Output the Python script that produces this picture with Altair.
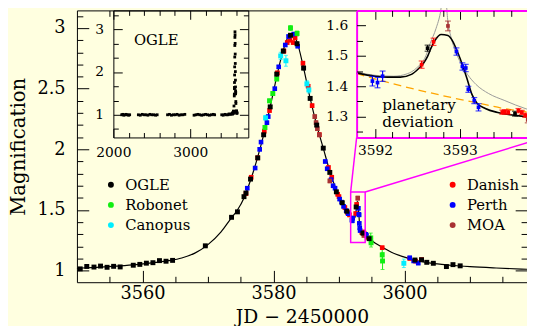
import altair as alt
import pandas as pd

FONT = "DejaVu Serif"
BG = "#ffffe0"
MAG = "#ff00ff"

COLORS = {"OGLE": "#000000", "Robonet": "#11ee11", "Canopus": "#00eeff",
          "Danish": "#ff0000", "Perth": "#0000ff", "MOA": "#a83232"}
GROUP_A = ["OGLE", "Robonet", "Canopus"]
GROUP_B = ["Danish", "Perth", "MOA"]

# ---------------- layout ----------------
W, H = 457, 276
MAIN_XD = [3550.0, 3618.7]; MAIN_YD = [0.905, 3.145]
MAIN_XR = [0, W]; MAIN_YR = [H, 0]
IN1_XD = [2000.0, 3756.0]; IN1_YD = [0.47, 3.44]; IN1_XR = [37, 174]; IN1_YR = [129, 0]
IN2_XD = [3591.784, 3594.0]; IN2_YD = [1.232, 1.649]; IN2_XR = [284, 475]; IN2_YR = [129, 0]

# ---------------- ticks ----------------
MAIN_X_MAJOR = [3560, 3580, 3600]
MAIN_X_MINOR = [3555, 3565, 3570, 3575, 3585, 3590, 3595, 3605, 3610, 3615]
MAIN_Y_MAJOR = [1, 1.5, 2, 2.5, 3]
MAIN_Y_MINOR = [1.1, 1.2, 1.3, 1.4, 1.6, 1.7, 1.8, 1.9, 2.1, 2.2, 2.3, 2.4, 2.6, 2.7, 2.8, 2.9, 3.1]
MAIN_TOP_MINOR = [3555]
MAIN_RIGHT_MAJOR = [1, 1.5, 2]
MAIN_RIGHT_MINOR = [1.1, 1.2, 1.3, 1.4, 1.6, 1.7, 1.8, 1.9]
IN1_X_MAJOR = [2000, 3000]; IN1_X_MINOR = [2200, 2400, 2600, 2800, 3200, 3400, 3600]
IN1_Y_MAJOR = [1, 2, 3]; IN1_Y_MINOR = [2 / 3, 4 / 3, 5 / 3, 7 / 3, 8 / 3, 10 / 3]
IN2_X_MAJOR = [3592, 3593]; IN2_X_MINOR = [3592.2, 3592.4, 3592.6, 3592.8, 3593.2, 3593.4, 3593.6, 3593.8]
IN2_Y_MAJOR = [1.3, 1.4, 1.5, 1.6]; IN2_Y_MINOR = [1.25, 1.35, 1.45, 1.55]

# ---------------- model curves ----------------
MODEL_T = [3550, 3553, 3556, 3559, 3562, 3564, 3566, 3568, 3570, 3572, 3573.5, 3574.5, 3575.5,
           3576.5, 3577.5, 3578.5, 3579.5, 3580.5, 3581.3, 3582.0, 3582.8, 3583.5, 3584.6,
           3585.6, 3586.6, 3587.6, 3588.6, 3589.6, 3590.6, 3591.3,
           3594.5, 3595.5, 3596.7, 3598, 3600, 3602, 3604, 3607, 3610, 3614, 3618.7]
MODEL_A = [1.020, 1.028, 1.038, 1.050, 1.068, 1.083, 1.105, 1.145, 1.215, 1.32, 1.43, 1.50, 1.60,
           1.745, 1.92, 2.12, 2.35, 2.60, 2.78, 2.90, 2.955, 2.90, 2.67,
           2.42, 2.20, 2.01, 1.82, 1.665, 1.555, 1.49,
           1.27, 1.228, 1.192, 1.152, 1.112, 1.082, 1.062, 1.045, 1.033, 1.022, 1.012]
BUMP_T = [3591.784, 3592.0, 3592.15, 3592.3, 3592.43, 3592.51, 3592.57, 3592.62, 3592.66, 3592.71,
          3592.78, 3592.86, 3592.92, 3592.97, 3593.03, 3593.09, 3593.14, 3593.20, 3593.30,
          3593.46, 3593.76, 3594.0]
BUMP_A = [1.444, 1.433, 1.430, 1.430, 1.439, 1.457, 1.475, 1.498, 1.525, 1.552,
          1.570, 1.567, 1.546, 1.514, 1.471, 1.420, 1.375, 1.345, 1.327,
          1.313, 1.301, 1.293]
GRAY_T = [3591.784, 3592.0, 3592.22, 3592.38, 3592.49, 3592.6, 3592.65, 3592.72, 3592.77, 3592.80,
          3592.83, 3592.86, 3592.90, 3592.95, 3593.01, 3593.09, 3593.19, 3593.34, 3593.53,
          3593.78, 3594.0]
GRAY_A = [1.447, 1.436, 1.433, 1.441, 1.460, 1.500, 1.540, 1.590, 1.640, 1.690,
          1.690, 1.611, 1.557, 1.514, 1.476, 1.439, 1.406, 1.376, 1.353,
          1.326, 1.310]
PSPL_T = [3591.784, 3592.0, 3592.3, 3592.6, 3592.9, 3593.2, 3593.5, 3593.78, 3594.0]
PSPL_A = [1.442, 1.424, 1.402, 1.382, 1.363, 1.346, 1.328, 1.316, 1.307]

# ---------------- observations ----------------
OGLE_T = [3550.5, 3551.5, 3552.6, 3553.6, 3554.6, 3555.6, 3556.6, 3558.6, 3559.6, 3560.6, 3561.6,
          3562.6, 3563.6, 3564.6, 3569.6, 3573.6, 3574.5, 3575.5, 3575.8, 3576.5, 3577.6, 3578.5,
          3579.5, 3580.5, 3581.5, 3582.6, 3583.6, 3584.6, 3585.6, 3586.6, 3587.6, 3588.6, 3589.6,
          3590.5, 3591.2, 3592.62, 3593.65, 3594.6, 3601.6, 3602.6, 3603.4, 3604.4, 3606.4,
          3607.4, 3608.5]
OGLE_A = [1.015, 1.035, 1.030, 1.038, 1.028, 1.036, 1.031, 1.045, 1.052, 1.062, 1.066,
          1.083, 1.078, 1.085, 1.205, 1.44, 1.485, 1.61, 1.64, 1.755, 1.93, 2.12,
          2.35, 2.62, 2.81, 2.94, 2.87, 2.67, 2.42, 2.20, 2.01, 1.81, 1.65,
          1.56, 1.49, 1.525, 1.31, 1.264, 1.088, 1.090, 1.069, 1.061, 1.034,
          1.050, 1.040]
OGLE_E = [0.005] * 15 + [0.008, 0.008, 0.01, 0.01, 0.01, 0.01, 0.012, 0.012, 0.015, 0.015,
                         0.015, 0.015, 0.015, 0.012, 0.012, 0.01, 0.01, 0.01, 0.01, 0.008,
                         0.01, 0.008, 0.008] + [0.006] * 7
DAN_T = [3575.8, 3576.6, 3577.6, 3578.6, 3579.4, 3580.6, 3581.6, 3582.1, 3582.5, 3583.0, 3583.3,
         3584.5, 3585.3, 3585.9, 3587.0, 3588.4, 3588.9, 3589.8, 3590.0, 3590.9, 3591.3, 3591.6,
         3592.55, 3592.69,
         3593.50, 3593.53, 3593.57, 3593.69, 3593.73, 3593.77, 3593.85, 3593.9, 3594.3,
         3596.6, 3600.8, 3601.7, 3602.6]
DAN_A = [1.635, 1.77, 1.93, 2.15, 2.32, 2.63, 2.81, 2.88, 2.90, 2.88, 2.92,
         2.71, 2.52, 2.36, 2.12, 1.85, 1.77, 1.63, 1.61, 1.52, 1.48, 1.46,
         1.471, 1.546,
         1.315, 1.316, 1.315, 1.320, 1.314, 1.305, 1.31, 1.30, 1.275,
         1.19, 1.10, 1.078, 1.092]
DAN_E = [0.015] * 22 + [0.012, 0.012] + [0.007] * 9 + [0.012, 0.008, 0.008, 0.008]
PER_T = [3576.0, 3577.2, 3577.9, 3578.1, 3579.0, 3579.2, 3580.2, 3580.8, 3581.8, 3582.3, 3583.1,
         3583.7, 3587.9, 3588.2, 3588.8, 3589.1, 3589.4, 3590.1, 3590.4, 3590.7, 3591.1, 3591.4,
         3591.97, 3592.03, 3592.09, 3592.96, 3593.03, 3593.07,
         3593.10, 3593.17, 3593.22, 3594.1, 3594.2, 3600.8, 3601.4, 3602.1]
PER_A = [1.68, 1.846, 2.00, 2.06, 2.22, 2.27, 2.50, 2.68, 2.86, 2.93, 2.95,
         2.85, 1.90, 1.84, 1.75, 1.70, 1.68, 1.59, 1.565, 1.53, 1.495, 1.47,
         1.417, 1.412, 1.433, 1.514, 1.465, 1.460,
         1.390, 1.353, 1.331, 1.30, 1.29, 1.107, 1.08, 1.062]
PER_E = [0.012] * 22 + [0.016, 0.017, 0.017, 0.012, 0.012, 0.012, 0.010, 0.010, 0.012,
                        0.012, 0.012, 0.008, 0.008, 0.008]
ROB_T = [3578.7, 3579.4, 3579.9, 3580.5, 3582.6, 3583.6, 3594.85, 3594.9, 3596.6, 3596.65]
ROB_A = [2.18, 2.40, 2.46, 2.58, 3.00, 2.955, 1.27, 1.23, 1.13, 1.08]
ROB_E = [0.015, 0.015, 0.015, 0.015, 0.02, 0.02, 0.04, 0.035, 0.045, 0.07]
CAN_T = [3578.8, 3581.1, 3581.9, 3585.1, 3585.4, 3599.9]
CAN_A = [2.26, 2.77, 2.73, 2.54, 2.49, 1.061]
CAN_E = [0.02, 0.03, 0.045, 0.025, 0.025, 0.035]
MOA_T = [3586.3, 3586.5, 3586.7, 3587.0, 3588.6, 3592.86, 3593.8]
MOA_A = [2.27, 2.22, 2.17, 2.12, 1.74, 1.598, 1.29]
MOA_E = [0.015, 0.015, 0.015, 0.015, 0.015, 0.016, 0.01]

# OGLE archival baseline (inset)
HIST_T = [2108, 2122, 2136, 2150, 2166, 2180, 2198, 2212,
          2325, 2350, 2375, 2400, 2425, 2450, 2475, 2500, 2525, 2550, 2570,
          2705, 2730, 2755, 2780, 2805, 2830, 2855, 2880, 2905, 2930,
          3050, 3075, 3100, 3125, 3150, 3175, 3200, 3225, 3250, 3275, 3300, 3318,
          3410, 3430, 3450, 3470, 3490, 3505, 3520, 3535]
HIST_A = [1.00, 1.01, 0.99, 1.00, 1.01, 1.00, 0.99, 1.00,
          1.00, 0.99, 1.01, 1.00, 1.00, 0.99, 1.01, 1.00, 1.00, 0.99, 1.00,
          1.00, 1.01, 0.99, 1.00, 1.00, 1.01, 0.99, 1.00, 1.00, 1.01,
          0.99, 1.00, 1.01, 1.00, 0.99, 1.00, 1.01, 1.00, 0.99, 1.00, 1.01, 1.00,
          1.00, 0.99, 1.01, 1.00, 1.00, 1.02, 1.01, 1.02]

TELE = {"OGLE": (OGLE_T, OGLE_A, OGLE_E), "Robonet": (ROB_T, ROB_A, ROB_E),
        "Canopus": (CAN_T, CAN_A, CAN_E), "Danish": (DAN_T, DAN_A, DAN_E),
        "Perth": (PER_T, PER_A, PER_E), "MOA": (MOA_T, MOA_A, MOA_E)}

rows = []
for name, (ts, As, es) in TELE.items():
    for t, a, e in zip(ts, As, es):
        rows.append(dict(tel=name, t=t, A=a, lo=a - e, hi=a + e, col=COLORS[name]))
obs = pd.DataFrame(rows)
order_a = {"Robonet": 0, "Canopus": 1, "OGLE": 2}
obs_a = obs[obs.tel.isin(GROUP_A)].copy()
obs_a["o"] = obs_a.tel.map(order_a)
obs_a = obs_a.sort_values(["o", "t"]).drop(columns="o")
obs_b = obs[obs.tel.isin(GROUP_B)]
caps = pd.concat([obs.assign(yc=obs.lo), obs.assign(yc=obs.hi)])

in2 = obs[(obs.t >= IN2_XD[0]) & (obs.t <= IN2_XD[1])]
in2_caps = caps[(caps.t >= IN2_XD[0]) & (caps.t <= IN2_XD[1])]

main_curve = pd.DataFrame({"t": MODEL_T + BUMP_T, "A": MODEL_A + BUMP_A}).sort_values("t")
ogle_all = pd.DataFrame({"t": HIST_T + OGLE_T, "A": HIST_A + OGLE_A})


def sc(dom, rng):
    return alt.Scale(domain=dom, range=rng, nice=False, zero=False)


def ax(orient, offset, values, size=0, labels=False, domain=False, dcolor="black",
       dwidth=1, fs=14, pad=0, z=0, **kw):
    opts = dict(orient=orient, offset=offset, values=values, ticks=size > 0, tickSize=size,
                tickColor="black", tickWidth=1, labels=labels, domain=domain,
                domainColor=dcolor, domainWidth=dwidth, grid=False, zindex=z, format="~f",
                labelFont=FONT, labelFontSize=fs, labelPadding=pad, labelColor="black",
                labelFlush=False, labelOverlap=False)
    opts.update(kw)
    if "title" not in opts:
        opts["title"] = None
    return alt.Axis(**opts)


def axis_layer(xd, xr, yd, yr, xaxis=None, yaxis=None):
    df = pd.DataFrame({"x": [xd[0]], "y": [yd[0]]})
    return alt.Chart(df).mark_point(opacity=0).encode(
        x=alt.X("x:Q", scale=sc(xd, xr), axis=xaxis),
        y=alt.Y("y:Q", scale=sc(yd, yr), axis=yaxis))


def enc(xd, xr, yd, yr, xf="t", yf="A", **kw):
    return dict(x=alt.X(f"{xf}:Q", scale=sc(xd, xr), axis=None),
                y=alt.Y(f"{yf}:Q", scale=sc(yd, yr), axis=None), **kw)


M = (MAIN_XD, MAIN_XR, MAIN_YD, MAIN_YR)
I1 = (IN1_XD, IN1_XR, IN1_YD, IN1_YR)
I2 = (IN2_XD, IN2_XR, IN2_YD, IN2_YR)
layers = []

# ---- main axes ----
layers.append(axis_layer(*M,
    xaxis=ax("bottom", 0, MAIN_X_MAJOR, labels=True, domain=True, fs=18, pad=3,
             title="JD − 2450000", titleFont=FONT, titleFontSize=19, titleFontWeight="normal",
             titleColor="black", titleY=41, titleBaseline="alphabetic"),
    yaxis=ax("left", 0, MAIN_Y_MAJOR, labels=True, domain=True, fs=18, pad=12,
             title="Magnification", titleFont=FONT, titleFontSize=20, titleFontWeight="normal",
             titleColor="black", titleX=-53, titleY=H / 2, titleBaseline="alphabetic",
             titleAngle=270)))
layers.append(axis_layer(*M, xaxis=ax("top", -H, MAIN_X_MAJOR, size=12),
                         yaxis=ax("right", -W, MAIN_Y_MAJOR, size=12)))
layers.append(axis_layer(*M, xaxis=ax("top", -H, MAIN_X_MINOR, size=6),
                         yaxis=ax("right", -W, MAIN_Y_MINOR, size=6)))
layers.append(axis_layer(*M, xaxis=ax("bottom", -H, MAIN_TOP_MINOR, size=6, domain=True),
                         yaxis=ax("left", -W, MAIN_RIGHT_MAJOR, size=12)))
layers.append(axis_layer(*M, yaxis=ax("left", -W, MAIN_RIGHT_MINOR, size=6)))

# ---- main data ----
layers.append(alt.Chart(main_curve).mark_line(color="black", strokeWidth=1.2,
                                              interpolate="monotone").encode(**enc(*M)))
layers.append(alt.Chart(obs).mark_rule(strokeWidth=1).encode(
    **enc(*M, yf="lo", y2="hi:Q", color=alt.Color("col:N", scale=None))))
layers.append(alt.Chart(caps).mark_tick(orient="horizontal", size=4, thickness=1).encode(
    **enc(*M, yf="yc", color=alt.Color("col:N", scale=None))))

leg_common = dict(orient="none", title=None, symbolType="circle", symbolSize=36,
                  labelFont=FONT, labelFontSize=15, labelColor="black", rowPadding=4.5,
                  labelOffset=7, padding=0, symbolStrokeWidth=0)
layers.append(alt.Chart(obs_b).mark_square(size=22, filled=True, opacity=1).encode(
    **enc(*M, color=alt.Color("tel:N", scale=alt.Scale(domain=GROUP_B,
                                                        range=[COLORS[k] for k in GROUP_B]),
                              legend=alt.Legend(legendX=374, legendY=169.5, **leg_common)))))
layers.append(alt.Chart(obs_a).mark_square(size=25, filled=True, opacity=1).encode(
    **enc(*M, color=alt.Color("tel:N", scale=alt.Scale(domain=GROUP_A,
                                                        range=[COLORS[k] for k in GROUP_A]),
                              legend=alt.Legend(legendX=27, legendY=169.5, **leg_common)))))

# zoom box and connectors (main data coordinates)
def inv_x(px):
    return MAIN_XD[0] + px / W * (MAIN_XD[1] - MAIN_XD[0])


def inv_y(py):
    return MAIN_YD[1] - py / H * (MAIN_YD[1] - MAIN_YD[0])


box = pd.DataFrame({"t": [IN2_XD[0]], "t2": [IN2_XD[1]], "A": [IN2_YD[0]], "A2": [IN2_YD[1]]})
layers.append(alt.Chart(box).mark_rect(fillOpacity=0, stroke=MAG, strokeWidth=1.5).encode(
    **enc(*M, x2="t2:Q", y2="A2:Q")))
conn = pd.DataFrame({"t": [IN2_XD[0], IN2_XD[1]], "A": [IN2_YD[1], IN2_YD[1]],
                     "t2": [inv_x(IN2_XR[0]), inv_x(IN2_XR[1])],
                     "A2": [inv_y(IN2_YR[0]), inv_y(IN2_YR[0])]})
layers.append(alt.Chart(conn).mark_rule(color=MAG, strokeWidth=1.5).encode(
    **enc(*M, x2="t2:Q", y2="A2:Q")))

# ---- inset 1 (OGLE long-term) ----
layers.append(axis_layer(*I1,
    xaxis=ax("bottom", IN1_YR[0] - H, IN1_X_MAJOR, labels=True, domain=True, fs=14, pad=8, z=1),
    yaxis=ax("left", -IN1_XR[0], IN1_Y_MAJOR, labels=True, domain=True, fs=14, pad=10, z=1)))
layers.append(axis_layer(*I1, xaxis=ax("top", -IN1_YR[0], IN1_X_MAJOR, size=9, z=1),
                         yaxis=ax("right", IN1_XR[0] - W, IN1_Y_MAJOR, size=9, z=1)))
layers.append(axis_layer(*I1, xaxis=ax("top", -IN1_YR[0], IN1_X_MINOR, size=5, z=1),
                         yaxis=ax("right", IN1_XR[0] - W, IN1_Y_MINOR, size=5, z=1)))
layers.append(axis_layer(*I1, xaxis=ax("bottom", -H, IN1_X_MAJOR, size=9, domain=True, z=1),
                         yaxis=ax("left", -IN1_XR[1], IN1_Y_MAJOR, size=9, domain=True, z=1)))
layers.append(axis_layer(*I1, xaxis=ax("bottom", -H, IN1_X_MINOR, size=5, z=1),
                         yaxis=ax("left", -IN1_XR[1], IN1_Y_MINOR, size=5, z=1)))
layers.append(alt.Chart(ogle_all).mark_square(size=8, filled=True, opacity=1, color="black")
              .encode(**enc(*I1)))
lab1 = pd.DataFrame({"t": [2557], "A": [2.74], "txt": ["OGLE"]})
layers.append(alt.Chart(lab1).mark_text(font=FONT, fontSize=15, color="black", align="center",
                                        baseline="middle").encode(**enc(*I1, text="txt:N")))

# ---- inset 2 (planetary deviation) ----
layers.append(axis_layer(*I2,
    xaxis=ax("bottom", IN2_YR[0] - H, IN2_X_MAJOR, labels=True, domain=True, dcolor=MAG,
             dwidth=2, fs=14, pad=6, z=1),
    yaxis=ax("left", -IN2_XR[0], IN2_Y_MAJOR, labels=True, domain=True, dcolor=MAG,
             dwidth=2, fs=14, pad=9, z=1)))
layers.append(axis_layer(*I2, xaxis=ax("top", -IN2_YR[0], IN2_X_MAJOR, size=9, z=1),
                         yaxis=ax("right", IN2_XR[0] - W, IN2_Y_MAJOR, size=9, z=1)))
layers.append(axis_layer(*I2, xaxis=ax("top", -IN2_YR[0], IN2_X_MINOR, size=6, z=1),
                         yaxis=ax("right", IN2_XR[0] - W, IN2_Y_MINOR, size=6, z=1)))
layers.append(axis_layer(*I2, xaxis=ax("bottom", -H, IN2_X_MAJOR, size=9, domain=True,
                                       dcolor=MAG, dwidth=2, z=1)))
layers.append(axis_layer(*I2, xaxis=ax("bottom", -H, IN2_X_MINOR, size=6, z=1)))

layers.append(alt.Chart(pd.DataFrame({"t": GRAY_T, "A": GRAY_A})).mark_line(
    color="#999999", strokeWidth=1, interpolate="monotone").encode(**enc(*I2)))
layers.append(alt.Chart(pd.DataFrame({"t": PSPL_T, "A": PSPL_A})).mark_line(
    color="#ffa500", strokeWidth=1.3, strokeDash=[8, 5], interpolate="monotone").encode(**enc(*I2)))
layers.append(alt.Chart(pd.DataFrame({"t": BUMP_T, "A": BUMP_A})).mark_line(
    color="black", strokeWidth=1.6, interpolate="monotone").encode(**enc(*I2)))
layers.append(alt.Chart(in2).mark_rule(strokeWidth=1.2).encode(
    **enc(*I2, yf="lo", y2="hi:Q", color=alt.Color("col:N", scale=None))))
layers.append(alt.Chart(in2_caps).mark_tick(orient="horizontal", size=6, thickness=1.2).encode(
    **enc(*I2, yf="yc", color=alt.Color("col:N", scale=None))))
layers.append(alt.Chart(in2).mark_square(size=14, filled=True, opacity=1).encode(
    **enc(*I2, color=alt.Color("col:N", scale=None))))
lab2 = pd.DataFrame({"t": [3592.085, 3592.085], "A": [1.338, 1.281],
                     "txt": ["planetary", "deviation"]})
layers.append(alt.Chart(lab2).mark_text(font=FONT, fontSize=15.5, color="black", align="left",
                                        baseline="middle").encode(**enc(*I2, text="txt:N")))

chart = alt.layer(*layers).resolve_scale(
    x="independent", y="independent", color="independent"
).properties(
    width=W, height=H,
    padding={"left": 70, "top": 0, "right": 0, "bottom": 42},
    autosize=alt.AutoSizeParams(type="none"),
    background=BG,
).configure_view(strokeWidth=0).configure_legend(labelFont=FONT)

chart.save("out.html", embed_options={"renderer": "svg", "actions": False})
